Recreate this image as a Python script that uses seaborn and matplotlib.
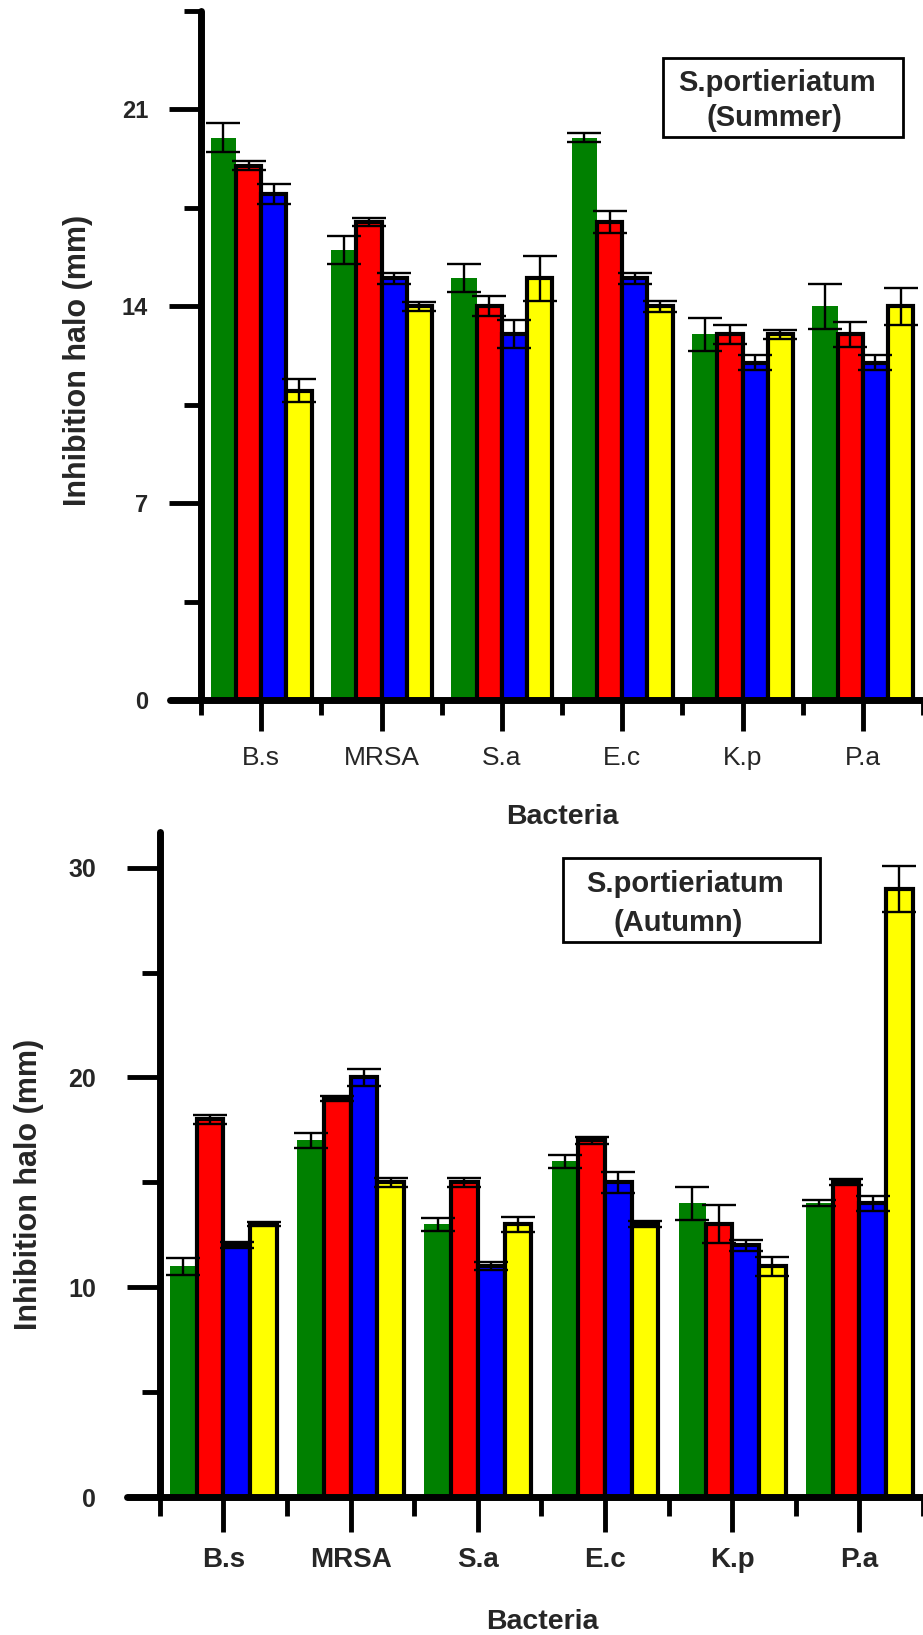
import pandas as pd
import numpy as np
import matplotlib.pyplot as plt
import matplotlib.patches as mpatches
import seaborn as sns

# data
bacteria = ['B.s', 'MRSA', 'S.a', 'E.c', 'K.p', 'P.a']
extracts = ['Extract 1', 'Extract 2', 'Extract 3', 'Extract 4']
colors = ['#008000', '#FF0000', '#0000FF', '#FFFF00']

summer_means = {
    'Extract 1': [20, 16, 15, 20, 13, 14],
    'Extract 2': [19, 17, 14, 17, 13, 13],
    'Extract 3': [18, 15, 13, 15, 12, 12],
    'Extract 4': [11, 14, 15, 14, 13, 14],
}
summer_err = {
    'Extract 1': [0.5, 0.5, 0.5, 0.17, 0.6, 0.8],
    'Extract 2': [0.15, 0.15, 0.35, 0.4, 0.33, 0.45],
    'Extract 3': [0.35, 0.2, 0.5, 0.2, 0.25, 0.28],
    'Extract 4': [0.4, 0.15, 0.8, 0.2, 0.15, 0.65],
}
autumn_means = {
    'Extract 1': [11, 17, 13, 16, 14, 14],
    'Extract 2': [18, 19, 15, 17, 13, 15],
    'Extract 3': [12, 20, 11, 15, 12, 14],
    'Extract 4': [13, 15, 13, 13, 11, 29],
}
autumn_err = {
    'Extract 1': [0.4, 0.35, 0.3, 0.3, 0.8, 0.15],
    'Extract 2': [0.2, 0.12, 0.2, 0.15, 0.9, 0.15],
    'Extract 3': [0.15, 0.4, 0.2, 0.5, 0.25, 0.35],
    'Extract 4': [0.1, 0.2, 0.35, 0.15, 0.45, 1.1],
}


def long_df(means):
    rows = []
    for ext in extracts:
        for b, v in zip(bacteria, means[ext]):
            rows.append({'Bacteria': b, 'Extract': ext, 'Halo': v})
    return pd.DataFrame(rows)


sns.set_theme(style="white")
plt.rcParams['font.family'] = ['Liberation Sans', 'DejaVu Sans']

W, H = 923, 1635
fig = plt.figure(figsize=(W / 100, H / 100), dpi=100)


def px_axes(left, right, top, bottom):
    return fig.add_axes([left / W, 1 - bottom / H, (right - left) / W, (bottom - top) / H])


def draw_panel(ax, means, errs, yaxis_px, left_px, px_per_cat, ymax, major, minor,
               xbold, xsize, ysize, ylen, xlen, ypad):
    df = long_df(means)
    sns.barplot(data=df, x='Bacteria', y='Halo', hue='Extract', order=bacteria,
                hue_order=extracts, palette=colors, width=0.84, errorbar=None,
                saturation=1, legend=False, ax=ax, zorder=2)
    bar_groups = list(ax.containers)
    for i, cont in enumerate(bar_groups):
        for p in cont:
            if i == 0:
                p.set_edgecolor('none')
                p.set_linewidth(0)
            else:
                p.set_edgecolor('black')
                p.set_linewidth(3)
        xs = [p.get_x() + p.get_width() / 2 for p in cont]
        ys = [p.get_height() for p in cont]
        ax.errorbar(xs, ys, yerr=errs[extracts[i]], fmt='none', ecolor='black',
                    elinewidth=1.7, capsize=12, capthick=1.7, zorder=4)

    x0 = -0.5 - (yaxis_px - left_px) / px_per_cat
    ax.set_xlim(x0, 5.5)
    ax.set_ylim(0, ymax)
    ax.spines['left'].set_position(('data', -0.5))
    ax.spines['top'].set_visible(False)
    ax.spines['right'].set_visible(False)
    for s in ['left', 'bottom']:
        ax.spines[s].set_linewidth(5)
        ax.spines[s].set_color('black')
        ax.spines[s].set_capstyle('round')
        ax.spines[s].set_zorder(5)

    ax.set_yticks(major)
    ax.set_yticks(minor, minor=True)
    ax.set_xticks(range(len(bacteria)))
    ax.set_xticks(np.arange(-0.5, 6, 1), minor=True)
    ax.set_xticklabels(bacteria)
    ax.set_yticklabels([str(v) for v in major])
    ax.tick_params(axis='y', which='major', direction='out', length=ylen[0], width=3.5,
                   color='black', pad=ypad, left=True, labelsize=ysize)
    ax.tick_params(axis='y', which='minor', direction='out', length=ylen[1], width=3.5,
                   color='black', left=True)
    ax.tick_params(axis='x', which='major', direction='out', length=xlen[0], width=3.5,
                   color='black', pad=11, bottom=True, labelsize=xsize)
    ax.tick_params(axis='x', which='minor', direction='out', length=xlen[1], width=3.5,
                   color='black', bottom=True)
    for lab in ax.get_yticklabels():
        lab.set_fontweight('bold')
    for lab in ax.get_xticklabels():
        lab.set_fontweight('bold' if xbold else 'normal')
    ax.set_xlabel('Bacteria', fontsize=20.5, fontweight='bold')
    ax.set_ylabel('Inhibition halo (mm)', fontsize=22, fontweight='bold')
    ax.grid(False)


# top panel (Summer)
ax1 = px_axes(170, 923, 11, 700)
draw_panel(ax1, summer_means, summer_err, 201, 170, 120.3, 24.5,
           [0, 7, 14, 21], [3.5, 10.5, 17.5, 24.5], False, 19, 17,
           (23, 12), (22, 11), 15)
ax1.xaxis.set_label_coords(562 / W, 1 - 817 / H, transform=fig.transFigure)
ax1.xaxis.label.set_va('center')
ax1.yaxis.set_label_coords(78 / W, 1 - 360 / H, transform=fig.transFigure)
ax1.yaxis.label.set_va('center')

# bottom panel (Autumn)
ax2 = px_axes(127, 923, 832, 1497)
draw_panel(ax2, autumn_means, autumn_err, 160, 127, 127.8, 31.7,
           [0, 10, 20, 30], [5, 15, 25], True, 20, 18,
           (24, 13), (25, 14), 22)
ax2.xaxis.set_label_coords(542 / W, 1 - 1622 / H, transform=fig.transFigure)
ax2.xaxis.label.set_va('center')
ax2.yaxis.set_label_coords(29 / W, 1 - 1184 / H, transform=fig.transFigure)
ax2.yaxis.label.set_va('center')

# title boxes
for (bx0, bx1, by0, by1), lines in [
        ((663, 903, 58, 137), [('S.portieriatum', 777, 83), ('(Summer)', 774, 118)]),
        ((563, 820, 858, 942), [('S.portieriatum', 685, 884), ('(Autumn)', 678, 923)])]:
    fig.patches.append(mpatches.Rectangle((bx0 / W, 1 - by1 / H), (bx1 - bx0) / W,
                                          (by1 - by0) / H, transform=fig.transFigure,
                                          facecolor='white', edgecolor='black',
                                          linewidth=2, zorder=10))
    for txt, tx, ty in lines:
        fig.text(tx / W, 1 - ty / H, txt, ha='center', va='center', fontsize=21,
                 fontweight='bold', zorder=11)

fig.savefig('out.png', dpi=100)
